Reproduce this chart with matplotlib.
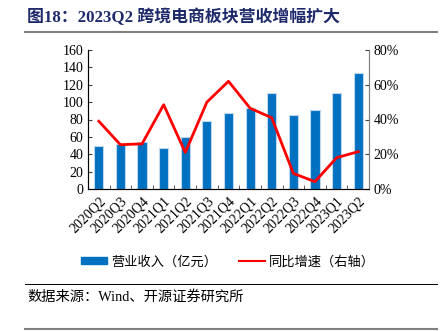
import matplotlib
matplotlib.use("Agg")
import matplotlib.pyplot as plt
from matplotlib.lines import Line2D
from matplotlib.patches import Patch
import numpy as np

quarters = ["2020Q2", "2020Q3", "2020Q4", "2021Q1", "2021Q2", "2021Q3", "2021Q4",
            "2022Q1", "2022Q2", "2022Q3", "2022Q4", "2023Q1", "2023Q2"]
revenue = [49, 52, 54, 47, 60, 78, 87.5, 93, 110, 85, 91.5, 110.5, 134]
growth = [39, 25.5, 26, 48.5, 21, 50, 62, 46.5, 41, 9, 4.2, 18, 21.5]

serif = ['Liberation Serif', 'Noto Sans CJK SC']
plt.rcParams['font.family'] = serif

fig = plt.figure(figsize=(4.4, 3.31), dpi=100)
ax = fig.add_axes([88/440, 1-189/331, (369-88)/440, (189-50)/331])
x = np.arange(len(quarters))
ax.bar(x, revenue, width=0.42, color='#0070C0', edgecolor='#BDD7EE', linewidth=0.8, zorder=2)
ax.set_xlim(-0.5, len(quarters)-0.5)
ax.set_ylim(0, 160)
ax.set_yticks(range(0, 161, 20))
ax.set_xticks(x)
ax.set_xticklabels(quarters, rotation=45, ha='right', rotation_mode='anchor', fontsize=10)
ax.tick_params(axis='x', length=0, pad=4)
ax.set_xticks(np.arange(-0.5, len(quarters), 1), minor=True)
ax.tick_params(axis='x', which='minor', direction='in', length=3, color='#404040')
ax.tick_params(axis='y', direction='in', length=3, labelsize=10, color='#404040')
for s in ['top']:
    ax.spines[s].set_visible(False)
ax.spines['left'].set_color('#404040')
ax.spines['bottom'].set_color('#404040')
ax.spines['right'].set_color('#808080')

ax2 = ax.twinx()
ax2.plot(x, growth, color='#FF0000', linewidth=2, zorder=3)
ax2.set_ylim(0, 80)
ax2.set_yticks(range(0, 81, 20))
ax2.set_yticklabels([f"{v}%" for v in range(0, 81, 20)])
ax2.tick_params(axis='y', direction='in', length=3, labelsize=10, color='#404040')
ax2.spines['top'].set_visible(False)
ax2.spines['right'].set_color('#808080')

fig.text(27/440, 1-17/331, "图18：2023Q2 跨境电商板块营收增幅扩大", fontsize=12.2, fontweight='bold',
         color='#1F2A6B', va='center', ha='left', family=serif)
fig.add_artist(Line2D([25/440, 437/440], [1-32/331, 1-32/331], color='#808080', linewidth=1.5))
fig.add_artist(Line2D([25/440, 437/440], [1-284/331, 1-284/331], color='#000000', linewidth=0.7))
fig.add_artist(Line2D([25/440, 437/440], [1-329/331, 1-329/331], color='#808080', linewidth=1.5))
fig.text(27/440, 1-297/331, "数据来源：Wind、开源证券研究所", fontsize=10.3, va='center', ha='left', family=serif)

handles = [Patch(color='#0070C0'), Line2D([0], [0], color='#FF0000', linewidth=1.5)]
fig.legend(handles, ["营业收入（亿元）", "同比增速（右轴）"], loc='center', bbox_to_anchor=(228/440, 1-262/331),
           ncol=2, frameon=False, fontsize=9.5, handlelength=2.0, handleheight=0.5, columnspacing=1.6,
           handletextpad=0.3)

fig.savefig("out.png", dpi=100)
